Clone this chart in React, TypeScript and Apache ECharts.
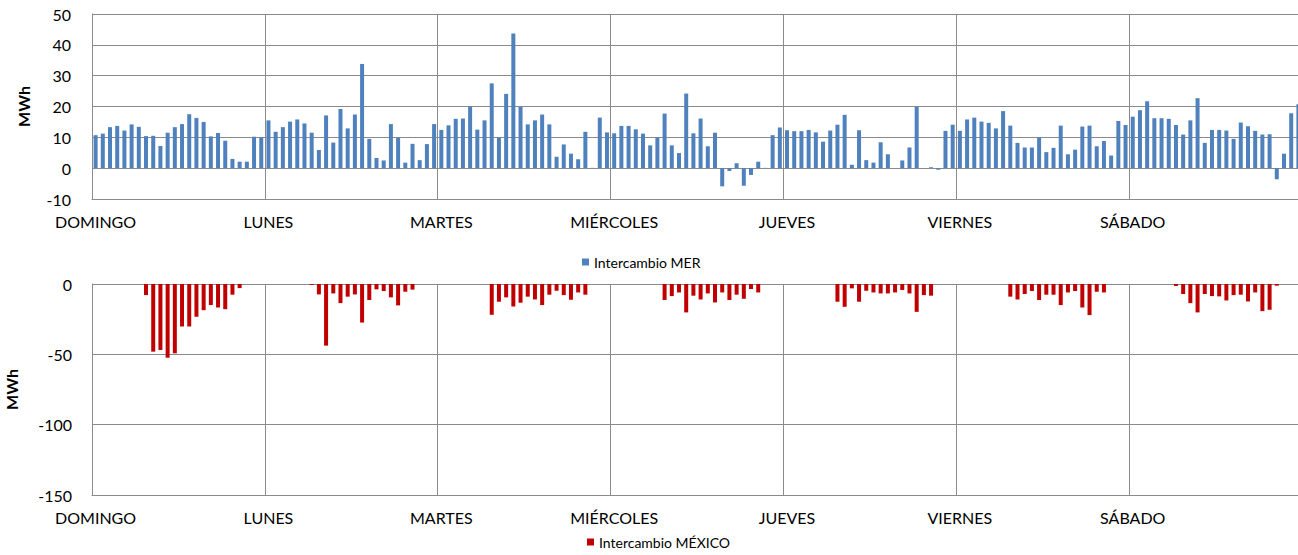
import React, { useEffect, useRef } from "react";
import * as echarts from "echarts";

const DAYS = ["DOMINGO", "LUNES", "MARTES", "MIÉRCOLES", "JUEVES", "VIERNES", "SÁBADO"];
const HOURS = ["1", "2", "3", "4", "5", "6", "7", "8", "9", "10", "11", "12", "13", "14", "15", "16", "17", "18", "19", "20", "21", "22", "23", "24"];

// Intercambio MER (MWh), 24 hourly values per day
const MER_DOMINGO = [10.7, 11.2, 13.3, 13.7, 12.2, 14.2, 13.4, 10.4, 10.5, 7.2, 11.5, 13.3, 14.3, 17.5, 16.3, 15.0, 10.3, 11.4, 8.9, 3.0, 2.1, 2.1, 10.2, 10.0];
const MER_LUNES = [15.5, 11.8, 13.3, 15.1, 15.8, 14.5, 11.5, 5.9, 17.1, 8.3, 19.2, 12.9, 17.4, 33.8, 9.5, 3.3, 2.5, 14.3, 9.8, 1.8, 7.9, 2.6, 7.8, 14.3];
const MER_MARTES = [12.4, 13.9, 16.0, 16.1, 20.0, 12.5, 15.5, 27.5, 9.9, 24.1, 43.7, 19.9, 14.2, 15.5, 17.4, 14.2, 3.7, 7.7, 4.7, 2.9, 11.8, 0.1, 16.4, 11.6];
const MER_MIERCOLES = [11.3, 13.7, 13.7, 12.6, 11.2, 7.4, 9.9, 17.7, 7.4, 4.9, 24.2, 11.3, 16.1, 7.1, 11.5, -5.9, -0.9, 1.6, -5.7, -2.2, 2.1, 0.1, 10.7, 13.2];
const MER_JUEVES = [12.3, 12.0, 12.0, 12.4, 11.6, 8.6, 12.2, 14.1, 17.3, 1.1, 12.3, 2.6, 1.8, 8.4, 4.5, 0, 2.5, 6.7, 19.9, 0, 0.3, -0.5, 12.1, 14.1];
const MER_VIERNES = [12.1, 15.8, 16.4, 15.1, 14.7, 12.9, 18.5, 13.8, 8.2, 6.7, 6.7, 10.0, 5.2, 6.6, 13.8, 4.5, 6.0, 13.5, 13.8, 7.1, 8.8, 4.1, 15.3, 14.0];
const MER_SABADO = [16.7, 18.8, 21.7, 16.2, 16.2, 16.0, 14.0, 10.9, 15.5, 22.7, 8.2, 12.4, 12.4, 12.2, 9.5, 14.8, 13.6, 12.1, 10.9, 11.0, -3.6, 4.7, 17.8, 20.7];

// Intercambio MÉXICO (MWh), 24 hourly values per day
const MEX_DOMINGO = [0, 0, 0, 0, 0, 0, 0, -7.9, -48.1, -46.9, -52.4, -49.3, -30.2, -30.2, -23.3, -18.6, -15.0, -16.7, -17.9, -7.6, -2.9, 0, 0, 0];
const MEX_LUNES = [0, 0, 0, 0, 0, 0, -0.7, -7.4, -43.8, -6.7, -13.6, -9.0, -7.4, -27.4, -11.4, -3.8, -5.0, -9.5, -15.2, -5.5, -4.0, 0, 0, 0];
const MEX_MARTES = [0, 0, 0, 0, 0, 0, 0, -21.9, -12.6, -9.5, -16.0, -13.3, -9.0, -11.0, -15.0, -7.6, -4.8, -7.9, -11.2, -6.0, -7.6, 0, 0, 0];
const MEX_MIERCOLES = [0, 0, 0, 0, 0, 0, 0, -11.4, -8.6, -6.0, -20.2, -8.3, -11.0, -6.7, -13.1, -6.0, -11.4, -7.6, -10.5, -3.6, -6.0, 0, 0, 0];
const MEX_JUEVES = [0, 0, 0, 0, 0, 0, 0, -12.6, -16.2, -3.1, -12.6, -4.8, -6.0, -6.7, -6.7, -6.0, -4.3, -6.7, -19.8, -7.9, -8.3, 0, 0, 0];
const MEX_VIERNES = [0, 0, 0, 0, 0, 0, 0, -9.0, -11.0, -7.1, -5.0, -11.4, -7.6, -7.6, -15.0, -6.0, -5.0, -16.7, -22.1, -5.5, -6.0, 0, 0, 0];
const MEX_SABADO = [0, 0, 0, 0, 0, 0, -1.4, -7.1, -13.6, -20.2, -7.1, -8.6, -8.8, -11.7, -7.9, -7.6, -12.4, -6.0, -19.3, -18.3, -1.2, 0, 0, 0];

const MER = [MER_DOMINGO, MER_LUNES, MER_MARTES, MER_MIERCOLES, MER_JUEVES, MER_VIERNES, MER_SABADO].flat();
const MEX = [MEX_DOMINGO, MEX_LUNES, MEX_MARTES, MEX_MIERCOLES, MEX_JUEVES, MEX_VIERNES, MEX_SABADO].flat();
const CATEGORIES = DAYS.flatMap((d) => HOURS.map((h) => `${d} ${h}`));

const FONT = 'Lato, "Open Sans", sans-serif';
const GRID_COLOR = "#8a8a8a";

function xAxisFor(gridIndex: number) {
  return {
    type: "category",
    gridIndex,
    data: CATEGORIES,
    boundaryGap: true,
    axisLine: { show: true, onZero: false, lineStyle: { color: GRID_COLOR, width: 1 } },
    axisTick: { show: false },
    axisLabel: {
      interval: 23,
      formatter: (v: string) => v.split(" ")[0],
      fontSize: 16,
      color: "#000",
      fontFamily: FONT,
      margin: 14,
    },
    splitLine: { show: true, interval: 23, lineStyle: { color: GRID_COLOR, width: 1 } },
  };
}

export default function App() {
  const ref = useRef<HTMLDivElement>(null);
  useEffect(() => {
    if (!ref.current) return;
    const chart = echarts.init(ref.current, undefined, { renderer: "svg" });
    chart.setOption({
      animation: false,
      backgroundColor: "#fff",
      textStyle: { fontFamily: FONT },
      legend: [
        {
          data: ["Intercambio MER"],
          left: 582,
          top: 255,
          icon: "rect",
          itemWidth: 7,
          itemHeight: 7,
          itemGap: 4,
          padding: 0,
          textStyle: { fontSize: 14, color: "#000", fontFamily: FONT },
        },
        {
          data: ["Intercambio MÉXICO"],
          left: 587,
          top: 535,
          icon: "rect",
          itemWidth: 7,
          itemHeight: 7,
          padding: 0,
          textStyle: { fontSize: 14, color: "#000", fontFamily: FONT },
        },
      ],
      grid: [
        { left: 92, right: -4, top: 14, height: 185, outerBoundsMode: "none" },
        { left: 92, right: -4, top: 284, height: 211, outerBoundsMode: "none" },
      ],
      xAxis: [xAxisFor(0), xAxisFor(1)],
      yAxis: [
        {
          type: "value",
          gridIndex: 0,
          min: -10,
          max: 50,
          interval: 10,
          name: "MWh",
          nameLocation: "middle",
          nameGap: 61,
          nameTextStyle: { fontWeight: "bold", fontSize: 16, color: "#000", fontFamily: FONT },
          axisLine: { show: true, lineStyle: { color: GRID_COLOR } },
          axisTick: { show: false },
          axisLabel: { fontSize: 16, color: "#000", margin: 21, fontFamily: FONT },
          splitLine: { show: true, lineStyle: { color: GRID_COLOR, width: 1 } },
        },
        {
          type: "value",
          gridIndex: 1,
          min: -150,
          max: 0,
          interval: 50,
          name: "MWh",
          nameLocation: "middle",
          nameGap: 73,
          nameTextStyle: { fontWeight: "bold", fontSize: 16, color: "#000", fontFamily: FONT },
          axisLine: { show: true, lineStyle: { color: GRID_COLOR } },
          axisTick: { show: false },
          axisLabel: { fontSize: 16, color: "#000", margin: 20, fontFamily: FONT },
          splitLine: { show: true, lineStyle: { color: GRID_COLOR, width: 1 } },
        },
      ],
      series: [
        {
          name: "Intercambio MER",
          type: "bar",
          xAxisIndex: 0,
          yAxisIndex: 0,
          data: MER,
          barWidth: 4,
          itemStyle: { color: "#4F81BD" },
        },
        {
          name: "Intercambio MÉXICO",
          type: "bar",
          xAxisIndex: 1,
          yAxisIndex: 1,
          data: MEX,
          barWidth: 4,
          itemStyle: { color: "#C00000" },
        },
      ],
    });
    return () => chart.dispose();
  }, []);
  return (
    <div
      ref={ref}
      style={{ position: "absolute", left: 0, top: 0, width: 1298, height: 555 }}
    />
  );
}
